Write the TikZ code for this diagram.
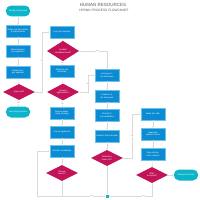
\documentclass[tikz,border=0pt]{standalone}
\usepackage{fontspec}
\setmainfont{Liberation Sans}
\usetikzlibrary{shapes.geometric,arrows.meta}
\definecolor{boxblue}{HTML}{0A8BD2}
\definecolor{boxedge}{HTML}{6CC0EC}
\definecolor{deccol}{HTML}{C3145A}
\definecolor{termcol}{HTML}{0CB4C9}
\definecolor{linecol}{HTML}{DADADA}
\definecolor{titlecol}{HTML}{5A5A5A}
\begin{document}
\begin{tikzpicture}[x=0.05cm,y=-0.05cm,
  stepbox/.style={rectangle,fill=boxblue,draw=boxedge,line width=0.25pt,minimum width=1.22cm,minimum height=0.58cm,inner sep=0pt,text width=1.1cm,align=center,text=white,font=\fontsize{3}{3.6}\selectfont},
  decbox/.style={diamond,fill=deccol,draw=none,minimum width=1.6cm,minimum height=0.8cm,inner sep=0pt,align=center,text=white,font=\fontsize{3}{3.6}\selectfont},
  termbox/.style={rectangle,rounded corners=0.27cm,fill=termcol,draw=none,minimum width=1.22cm,minimum height=0.55cm,inner sep=0pt,text width=1.1cm,align=center,text=white,font=\fontsize{3}{3.6}\selectfont},
  conn/.style={draw=linecol,line width=0.35pt,-{Stealth[length=0.9mm,width=0.7mm]}},
  plain/.style={draw=linecol,line width=0.35pt},
  lbl/.style={font=\fontsize{2.4}{2.8}\selectfont,text=gray,fill=white,inner sep=0.3pt}
]
\useasboundingbox (0,0) rectangle (200,200);
% title
\node[text=titlecol,font=\fontsize{6.4}{7}\selectfont] (title) at (103,5) {HUMAN RESOURCES};
\node[text=titlecol,font=\fontsize{4.6}{5}\selectfont] (subtitle) at (104,10.5) {HIRING PROCESS FLOWCHART};
% column 1
\node[termbox] (s1) at (18,11) {Identify hiring need};
\node[stepbox] (a1) at (18,31) {Define job description \& requirements};
\node[stepbox] (a2) at (18,51) {Submit personnel requisition};
\node[stepbox] (a3) at (18,72) {Obtain budget approval};
\node[decbox] (d1) at (19,92) {Approved?};
\node[termbox] (e1) at (18,112) {End hiring process};
% column 2
\node[stepbox] (b1) at (62,32) {Post job internally};
\node[decbox] (d2) at (63,51) {Suitable\\candidate found?};
\node[stepbox] (b2) at (62,71) {Advertise job externally};
\node[decbox] (d3) at (63,92) {Enough\\applications?};
\node[stepbox] (b3) at (62,113) {Review advertising strategy};
\node[stepbox] (b4) at (62,132) {Screen applicants};
\node[stepbox] (b5) at (62,151) {Shortlist candidates};
\node[decbox] (d4) at (62,173) {Renew\\search?};
% column 3
\node[stepbox] (c1) at (107,75) {Arrange initial interviews};
\node[stepbox] (c2) at (107,96) {Conduct initial interviews};
\node[stepbox] (c3) at (107,115) {Shortlist final candidates};
\node[stepbox] (c4) at (107,136) {Conduct final interview};
\node[decbox] (d6) at (107,158) {Reference\\check OK?};
% column 4
\node[stepbox] (f1) at (153,114) {Make job offer};
\node[stepbox] (f2) at (153,134) {Negotiate salary \& terms};
\node[stepbox] (f3) at (153,154) {Sign employment contract};
\node[decbox] (d5) at (152,175) {Offer\\accepted?};
\node[termbox] (t2) at (186,175) {Onboard new hire};
% junction
\node[rectangle,fill=termcol,minimum size=0.15cm,inner sep=0pt] (jn) at (107,196) {};
\coordinate (k1) at (42,92);
\coordinate (k2) at (42,32);
\coordinate (k3) at (107,51);
\coordinate (k4) at (88,92);
\coordinate (k5) at (88,75);
\coordinate (k6) at (132,158);
\coordinate (k7) at (132,114);
\coordinate (k8) at (152,196);
\coordinate (k9) at (37,196);
\coordinate (k10) at (37,151);
\coordinate (k11) at (62,196);
% edges column 1
\draw[conn] (s1) -- (a1);
\draw[conn] (a1) -- (a2);
\draw[conn] (a2) -- (a3);
\draw[conn] (a3) -- (d1);
\draw[conn] (d1) -- node[lbl]{No} (e1);
\draw[conn] (d1.east) -- (k1) -- node[lbl,pos=0.52]{Yes} (k2) -- (b1.west);
% column 2
\draw[conn] (b1) -- (d2);
\draw[conn] (d2) -- node[lbl]{No} (b2);
\draw[conn] (d2.east) -- node[lbl,pos=0.65]{Yes} (k3) -- (c1.north);
\draw[conn] (b2) -- (d3);
\draw[conn] (d3) -- node[lbl]{No} (b3);
\draw[conn] (d3.east) -- (k4) -- node[lbl]{Yes} (k5) -- (c1.west);
\draw[conn] (b3) -- (b4);
\draw[conn] (b4) -- (b5);
\draw[conn] (b5) -- (d4);
% column 3
\draw[conn] (c1) -- (c2);
\draw[conn] (c2) -- (c3);
\draw[conn] (c3) -- (c4);
\draw[conn] (c4) -- (d6);
\draw[conn] (d6.east) -- (k6) -- node[lbl]{Yes} (k7) -- (f1.west);
% column 4
\draw[conn] (f1) -- (f2);
\draw[conn] (f2) -- (f3);
\draw[conn] (f3) -- (d5);
\draw[conn] (d5) -- (t2);
% bottom loop
\draw[plain] (d6.south) -- (jn);
\draw[plain] (d4.south) -- (k11);
\draw[conn] (d5.south) -- (k8) -- node[lbl,pos=0.19]{No} (jn.east);
\draw[conn] (jn.west) -- node[lbl,pos=0.2]{No} (k9) -- (k10) -- (b5.west);
\end{tikzpicture}
\end{document}
